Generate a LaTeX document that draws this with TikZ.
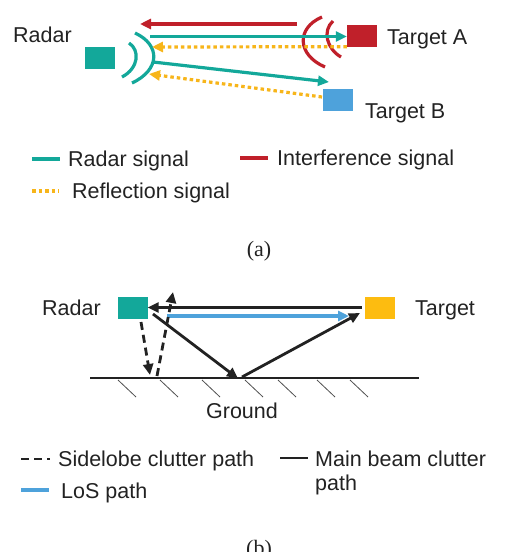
\documentclass[tikz,border=0pt]{standalone}
\usepackage{fontspec}
\setmainfont{Liberation Sans}
\newfontfamily\serifcap{Liberation Serif}
\usetikzlibrary{arrows.meta}
\definecolor{teal1}{HTML}{13A89A}
\definecolor{red1}{HTML}{C0202A}
\definecolor{blue1}{HTML}{4EA2DB}
\definecolor{yel1}{HTML}{F7B51A}
\definecolor{org1}{HTML}{FDBC10}
\definecolor{blk}{HTML}{222222}
\tikzset{
  lbl/.style={inner sep=0pt, anchor=base west, font=\fontsize{21.5}{24}\selectfont, text=blk},
  sq/.style={draw=none, minimum width=30pt, minimum height=22pt, inner sep=0pt},
  tip/.style={-{Triangle[length=11pt,width=10pt]}},
  sig/.style={line width=3.2pt, teal1},
  intf/.style={line width=3.2pt, red1},
  refl/.style={line width=3.2pt, yel1, dash pattern=on 3.5pt off 3pt},
  los/.style={line width=3.2pt, blue1},
  mainb/.style={line width=2.8pt, blk},
  sidel/.style={line width=2.8pt, blk, dash pattern=on 8pt off 5pt},
  hatch/.style={line width=0.8pt, blk!80},
}
\begin{document}
\begin{tikzpicture}[x=1pt,y=-1pt]
\useasboundingbox (0,0) rectangle (529,552);
% ---------------- panel (a)
\node[sq, fill=teal1] (radarA) at (100,58) {};
\node[sq, fill=red1] (tgtA) at (362,35.5) {};
\node[sq, fill=blue1] (tgtB) at (338,99.5) {};
\node[lbl] (radarAt) at (13,42) {Radar};
\node[lbl] (tgtAt) at (387,44) {Target A};
\node[lbl] (tgtBt) at (365,118) {Target B};
% teal arcs
\draw[sig] (129,43) .. controls (140,50) and (139,68) .. (122,77);
\draw[sig] (135,33) .. controls (161,45) and (160,70) .. (132,83);
% red arcs
\draw[intf] (322,17) .. controls (296,28) and (297,55) .. (325,67);
\draw[intf] (333,21) .. controls (322,31) and (327,49) .. (341,57);
% signals
\coordinate (redS) at (297,24);
\coordinate (redE) at (140,24);
\draw[intf, tip] (redS) -- (redE);
\coordinate (tA1) at (150,36.5);
\draw[sig, tip] (tA1) -- (tgtA.west |- tA1);
\coordinate (rA1) at (152,47);
\draw[refl, tip] (tgtA.south west) -- (rA1);
\coordinate (tB1) at (153,62);
\coordinate (tB2) at (329,82);
\draw[sig, tip] (tB1) -- (tB2);
\coordinate (rB1) at (149,74);
\coordinate (rB0) at (322,97);
\draw[refl, tip] (rB0) -- (rB1);
% legend (a)
\coordinate (la1) at (32,159); \coordinate (la2) at (60,159);
\draw[sig] (la1) -- (la2);
\node[lbl] (laT1) at (68,166) {Radar signal};
\coordinate (la3) at (240,158); \coordinate (la4) at (268,158);
\draw[intf] (la3) -- (la4);
\node[lbl] (laT2) at (277,165) {Interference signal};
\coordinate (la5) at (32,191); \coordinate (la6) at (59,191);
\draw[refl] (la5) -- (la6);
\node[lbl] (laT3) at (72,198) {Reflection signal};
\node[inner sep=0pt, anchor=base, font=\serifcap\fontsize{22}{26}\selectfont, text=blk] (capA) at (259,256) {(a)};
% ---------------- panel (b)
\node[sq, fill=teal1] (radarB) at (132.5,308) {};
\node[sq, fill=org1] (tgtBB) at (379.5,308) {};
\node[lbl] (radarBt) at (42,315) {Radar};
\node[lbl] (tgtBBt) at (415,315) {Target};
% ground
\coordinate (g1) at (90,378); \coordinate (g2) at (419,378);
\draw[line width=2.6pt, blk] (g1) -- (g2);
\foreach \hx in {118,160,202,245,278,317,350}{
  \draw[hatch] (\hx,380) -- ++(18,17);
}
\node[lbl, anchor=base] (groundt) at (242,418) {Ground};
% paths
\coordinate (tb1) at (362,307.5);
\draw[mainb, tip] (tb1) -- (radarB.east |- tb1);
\coordinate (lo1) at (167,316); \coordinate (lo2) at (349,316);
\draw[los, tip] (lo1) -- (lo2);
\coordinate (gp) at (238,378.5);
\coordinate (mb1) at (153,314);
\draw[mainb, tip] (mb1) -- (gp);
\coordinate (mb2) at (242,377);
\coordinate (mb3) at (360,313);
\draw[mainb, tip] (mb2) -- (mb3);
\coordinate (sd1) at (141,322); \coordinate (sd2) at (150,375);
\draw[sidel, tip] (sd1) -- (sd2);
\coordinate (sd3) at (157,376); \coordinate (sd4) at (173,292);
\draw[sidel, tip] (sd3) -- (sd4);
% legend (b)
\coordinate (lb1) at (21,459); \coordinate (lb2) at (50,459);
\draw[sidel, dash pattern=on 8pt off 5pt] (lb1) -- (lb2);
\node[lbl] (lbT1) at (58,466) {Sidelobe clutter path};
\coordinate (lb3) at (280,458); \coordinate (lb4) at (308,458);
\draw[mainb] (lb3) -- (lb4);
\node[lbl] (lbT2) at (315,466) {Main beam clutter};
\node[lbl] (lbT2b) at (315,490) {path};
\coordinate (lb5) at (21,490); \coordinate (lb6) at (49,490);
\draw[los] (lb5) -- (lb6);
\node[lbl] (lbT3) at (61,498) {LoS path};
\node[inner sep=0pt, anchor=base, font=\serifcap\fontsize{22}{26}\selectfont, text=blk] (capB) at (259,555) {(b)};
\end{tikzpicture}
\end{document}
